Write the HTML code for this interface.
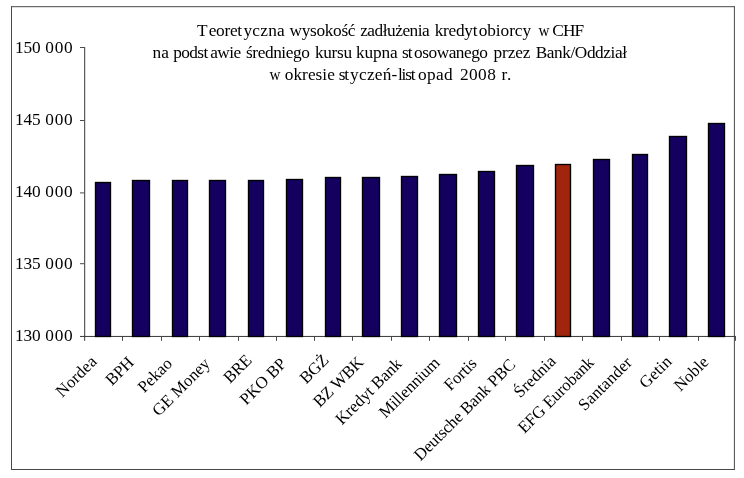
<!DOCTYPE html>
<html><head><meta charset="utf-8"><title>chart</title>
<style>
html,body{margin:0;padding:0;background:#fff;}
body{width:744px;height:478px;overflow:hidden;}
svg{display:block;will-change:transform;}
text{font-family:"Liberation Serif",serif;fill:#000;}
</style></head><body>
<svg width="744" height="478" viewBox="0 0 744 478">
<rect x="0" y="0" width="744" height="478" fill="#fff"/>
<!-- frame -->
<path d="M11 6.7H734.9M11 469.5H734.9M11.5 6.2V470M734.4 6.2V470" fill="none" stroke="#484848" stroke-width="1"/>
<!-- title -->
<g font-size="17.3">
<text x="197.10" y="35.50" style="letter-spacing:0.000px" xml:space="preserve">T</text>
<text x="208.75" y="35.50" style="letter-spacing:-0.312px" xml:space="preserve">eoret</text>
<text x="243.48" y="35.50" style="letter-spacing:0.238px" xml:space="preserve">yczna</text>
<text x="289.60" y="35.50" style="letter-spacing:-0.329px" xml:space="preserve">wysokość</text>
<text x="360.13" y="35.50" style="letter-spacing:-0.472px" xml:space="preserve">zadłużenia</text>
<text x="434.75" y="35.50" style="letter-spacing:-0.290px" xml:space="preserve">kredyt</text>
<text x="478.75" y="35.50" style="letter-spacing:-0.083px" xml:space="preserve">obiorcy</text>
<text transform="translate(544.00,35.50) scale(0.88,1)" text-anchor="middle">w</text>
<text x="552.32" y="35.50" style="letter-spacing:-0.925px" xml:space="preserve">CHF</text>
<text x="152.58" y="57.80" style="letter-spacing:0.150px" xml:space="preserve">na</text>
<text x="173.25" y="57.80" style="letter-spacing:-0.625px" xml:space="preserve">podst</text>
<text x="210.17" y="57.80" style="letter-spacing:-0.550px" xml:space="preserve">awie</text>
<text x="246.05" y="57.80" style="letter-spacing:-0.425px" xml:space="preserve">średniego</text>
<text x="314.88" y="57.80" style="letter-spacing:-0.312px" xml:space="preserve">kursu</text>
<text x="355.95" y="57.80" style="letter-spacing:-0.150px" xml:space="preserve">kupna</text>
<text x="402.00" y="57.80" style="letter-spacing:-0.950px" xml:space="preserve">st</text>
<text x="414.08" y="57.80" style="letter-spacing:-0.481px" xml:space="preserve">osowanego</text>
<text x="493.38" y="57.80" style="letter-spacing:-0.062px" xml:space="preserve">przez</text>
<text x="535.67" y="57.80" style="letter-spacing:-0.423px" xml:space="preserve">Bank/Oddział</text>
<text transform="translate(275.10,80.00) scale(0.88,1)" text-anchor="middle">w</text>
<text x="284.80" y="80.00" style="letter-spacing:0.017px" xml:space="preserve">okresie</text>
<text x="338.75" y="80.00" style="letter-spacing:-1.200px" xml:space="preserve">st</text>
<text x="350.10" y="80.00" style="letter-spacing:0.240px" xml:space="preserve">yczeń-</text>
<text x="398.00" y="80.00" style="letter-spacing:-1.183px" xml:space="preserve">list</text>
<text x="418.02" y="80.00" style="letter-spacing:0.350px" xml:space="preserve">opad</text>
<text x="459.93" y="80.00" style="letter-spacing:0.450px" xml:space="preserve">2008</text>
<text x="501.38" y="80.00" style="letter-spacing:0.800px" xml:space="preserve">r.</text>
</g>
<!-- axes -->
<g stroke="#4a4a4a" stroke-width="1" fill="none">
<path d="M84.65 47.0V340.8" stroke-width="1.1"/>
<path d="M80.0 336.45H735.9" stroke="#383838"/>
<path d="M80.0 47.50H84.5"/>
<path d="M80.0 120.50H84.5"/>
<path d="M80.0 192.90H84.5"/>
<path d="M80.0 263.70H84.5"/>
<path d="M122.50 336.5V340.8"/>
<path d="M161.50 336.5V340.8"/>
<path d="M199.50 336.5V340.8"/>
<path d="M238.50 336.5V340.8"/>
<path d="M276.50 336.5V340.8"/>
<path d="M314.50 336.5V340.8"/>
<path d="M352.50 336.5V340.8"/>
<path d="M391.50 336.5V340.8"/>
<path d="M429.50 336.5V340.8"/>
<path d="M468.50 336.5V340.8"/>
<path d="M505.50 336.5V340.8"/>
<path d="M544.50 336.5V340.8"/>
<path d="M582.50 336.5V340.8"/>
<path d="M621.50 336.5V340.8"/>
<path d="M659.50 336.5V340.8"/>
<path d="M698.50 336.5V340.8"/>
<path d="M735.50 336.5V340.8"/>
</g>
<!-- y labels -->
<g font-size="17.3">
<text x="15.10" y="52.70" style="letter-spacing:-0.150px">150</text><text x="45.28" y="52.70" style="letter-spacing:0.775px">000</text>
<text x="15.10" y="124.70" style="letter-spacing:-0.150px">145</text><text x="45.28" y="124.70" style="letter-spacing:0.775px">000</text>
<text x="15.10" y="197.40" style="letter-spacing:-0.150px">140</text><text x="45.28" y="197.40" style="letter-spacing:0.775px">000</text>
<text x="15.10" y="268.50" style="letter-spacing:-0.150px">135</text><text x="45.28" y="268.50" style="letter-spacing:0.775px">000</text>
<text x="15.10" y="341.10" style="letter-spacing:-0.150px">130</text><text x="45.28" y="341.10" style="letter-spacing:0.775px">000</text>
</g>
<!-- bars -->
<g stroke="#000" stroke-width="1.35">
<rect x="95.5" y="182.5" width="15" height="154.00" fill="#14005f"/>
<rect x="132.5" y="180.5" width="17" height="156.00" fill="#14005f"/>
<rect x="172.5" y="180.5" width="15" height="156.00" fill="#14005f"/>
<rect x="209.5" y="180.5" width="16" height="156.00" fill="#14005f"/>
<rect x="248.5" y="180.5" width="15" height="156.00" fill="#14005f"/>
<rect x="286.5" y="179.5" width="16" height="157.00" fill="#14005f"/>
<rect x="325.5" y="177.5" width="15" height="159.00" fill="#14005f"/>
<rect x="362.5" y="177.5" width="17" height="159.00" fill="#14005f"/>
<rect x="401.5" y="176.5" width="16" height="160.00" fill="#14005f"/>
<rect x="439.5" y="174.5" width="17" height="162.00" fill="#14005f"/>
<rect x="478.5" y="171.5" width="16" height="165.00" fill="#14005f"/>
<rect x="516.5" y="165.5" width="17" height="171.00" fill="#14005f"/>
<rect x="555.5" y="164.5" width="15" height="172.00" fill="#a0250c"/>
<rect x="593.5" y="159.5" width="16" height="177.00" fill="#14005f"/>
<rect x="632.5" y="154.5" width="15" height="182.00" fill="#14005f"/>
<rect x="669.5" y="136.5" width="17" height="200.00" fill="#14005f"/>
<rect x="708.5" y="123.5" width="16" height="213.00" fill="#14005f"/>
</g>
<!-- x labels -->
<g font-size="16.8" text-anchor="end">
<text transform="translate(97.85,362.43) rotate(-45)" style="letter-spacing:0.147px" xml:space="preserve">Nordea</text>
<text transform="translate(134.78,363.52) rotate(-45)" style="letter-spacing:-0.200px" xml:space="preserve">BPH</text>
<text transform="translate(173.30,364.42) rotate(-45)" style="letter-spacing:0.035px" xml:space="preserve">Pekao</text>
<text transform="translate(211.03,364.58) rotate(-45)" style="letter-spacing:0.000px" xml:space="preserve">GE Money</text>
<text transform="translate(252.55,361.45) rotate(-45)" style="letter-spacing:-0.200px" xml:space="preserve">BRE</text>
<text transform="translate(287.40,364.65) rotate(-45)" style="letter-spacing:0.000px" xml:space="preserve">PKO BP</text>
<text transform="translate(329.65,361.20) rotate(-45)" style="letter-spacing:-0.200px" xml:space="preserve">BGŻ</text>
<text transform="translate(364.52,363.20) rotate(-45)" style="letter-spacing:-0.200px" xml:space="preserve">BZ WBK</text>
<text transform="translate(402.80,364.78) rotate(-45)" style="letter-spacing:-0.016px" xml:space="preserve">Kredyt Bank</text>
<text transform="translate(440.52,363.77) rotate(-45)" style="letter-spacing:-0.141px" xml:space="preserve">Millennium</text>
<text transform="translate(477.60,364.52) rotate(-45)" style="letter-spacing:-0.147px" xml:space="preserve">Fortis</text>
<text transform="translate(516.42,365.60) rotate(-45)" style="letter-spacing:-0.135px" xml:space="preserve">Deutsche Bank PBC</text>
<text transform="translate(556.70,362.12) rotate(-45)" style="letter-spacing:0.025px" xml:space="preserve">Średnia</text>
<text transform="translate(594.90,363.60) rotate(-45)" style="letter-spacing:-0.118px" xml:space="preserve">EFG Eurobank</text>
<text transform="translate(633.05,363.35) rotate(-45)" style="letter-spacing:0.118px" xml:space="preserve">Santander</text>
<text transform="translate(672.67,362.47) rotate(-45)" style="letter-spacing:0.141px" xml:space="preserve">Getin</text>
<text transform="translate(709.55,362.95) rotate(-45)" style="letter-spacing:-0.000px" xml:space="preserve">Noble</text>
</g>
</svg>
</body></html>
